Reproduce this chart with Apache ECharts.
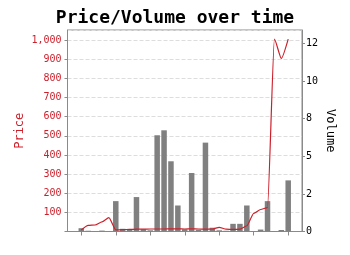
<!DOCTYPE html>
<html><head><meta charset="utf-8">
<script src="https://cdn.jsdelivr.net/npm/echarts@6/dist/echarts.min.js"></script>
<style>html,body{margin:0;padding:0;background:#fff}#c{width:350px;height:255px}</style>
</head><body><div id="c"></div>
<script>
var days = ['D1','D2','D3','D4','D5','D6','D7','D8','D9','D10','D11','D12','D13','D14','D15','D16','D17','D18','D19','D20','D21','D22','D23','D24','D25','D26','D27','D28','D29','D30','D31'];
var price = [8,32,34,50,72,8,10,11,12,12,13,13,13,14,14,13,14,13,12,13,22,12,11,12,30,95,115,125,1005,904,1005];
var volume = [0.22,0.05,0.03,0.06,0.03,2.02,0.18,0.15,2.29,0.15,0.08,6.4,6.73,4.67,1.73,0.15,3.89,0.12,5.91,0.25,0.08,0.05,0.51,0.51,1.73,0.03,0.13,2.02,0.03,0.1,3.4];
var volumeTickLabels = ['0','2','5','8','10','12'];
var pad = 2;

var cats = [], p = [], v = [];
for (var i = 0; i < pad; i++) { cats.push('pL' + i); p.push(null); v.push(null); }
for (var j = 0; j < days.length; j++) { cats.push(days[j]); p.push(price[j]); v.push(volume[j]); }
for (var k = 0; k < pad; k++) { cats.push('pR' + k); p.push(null); v.push(null); }

var mono = 'DejaVu Sans Mono';
var red = '#cc1f2a';
var chart = echarts.init(document.getElementById('c'), null, {renderer:'canvas'});
chart.setOption({
  animation: false,
  backgroundColor: '#fff',
  textStyle: {fontFamily: mono},
  title: {text: 'Price/Volume over time', left: 'center', top: 4,
    textStyle: {fontFamily: mono, fontSize: 18, fontWeight: 'bold', color: '#000'}},
  grid: {left: 67.5, right: 48, top: 30, bottom: 23.5, show: true, borderColor: '#8a8a8a', borderWidth: 1, containLabel: false},
  xAxis: {
    type: 'category', data: cats, boundaryGap: false,
    axisLine: {lineStyle: {color: '#8a8a8a'}},
    axisTick: {show: true, length: 4, lineStyle: {color: '#8a8a8a'},
      interval: function (idx) { return idx >= pad && (idx - pad) % 5 === 0; }},
    axisLabel: {show: false},
    splitLine: {show: false}
  },
  yAxis: [{
    type: 'value', min: 0, max: 1052.5, interval: 100, position: 'left',
    name: 'Price', nameLocation: 'middle', nameGap: 42, nameMoveOverlap: false,
    nameTextStyle: {color: red, fontFamily: mono, fontSize: 12},
    axisLine: {show: true, lineStyle: {color: '#8a8a8a'}},
    axisTick: {show: true, length: 3, lineStyle: {color: '#8a8a8a'}},
    axisLabel: {color: red, fontFamily: mono, fontSize: 10, margin: 6,
      formatter: function (val) { return val === 0 ? '' : val.toLocaleString('en-US'); },
      showMaxLabel: false},
    splitLine: {show: true, lineStyle: {color: '#dddddd', type: 'dashed'}}
  }, {
    type: 'value', min: 0, max: 13.4, interval: 2.5, position: 'right',
    name: 'Volume', nameLocation: 'middle', nameGap: 22, nameRotate: -90, nameMoveOverlap: false,
    nameTextStyle: {color: '#000', fontFamily: mono, fontSize: 12},
    axisLine: {show: true, lineStyle: {color: '#8a8a8a'}},
    axisTick: {show: true, length: 3, lineStyle: {color: '#8a8a8a'}},
    axisLabel: {color: '#000', fontFamily: mono, fontSize: 10, margin: 4,
      formatter: function (val) { var n = Math.round(val / 2.5); return volumeTickLabels[n] !== undefined ? volumeTickLabels[n] : ''; },
      showMaxLabel: false},
    splitLine: {show: false}
  }],
  series: [{
    type: 'bar', yAxisIndex: 1, data: v, barWidth: 5.5,
    itemStyle: {color: '#808080'}
  }, {
    type: 'line', yAxisIndex: 0, data: p, smooth: 0.2, smoothMonotone: 'x',
    showSymbol: false, symbol: 'none', connectNulls: false,
    lineStyle: {color: red, width: 1.2}
  }]
});
</script></body></html>
